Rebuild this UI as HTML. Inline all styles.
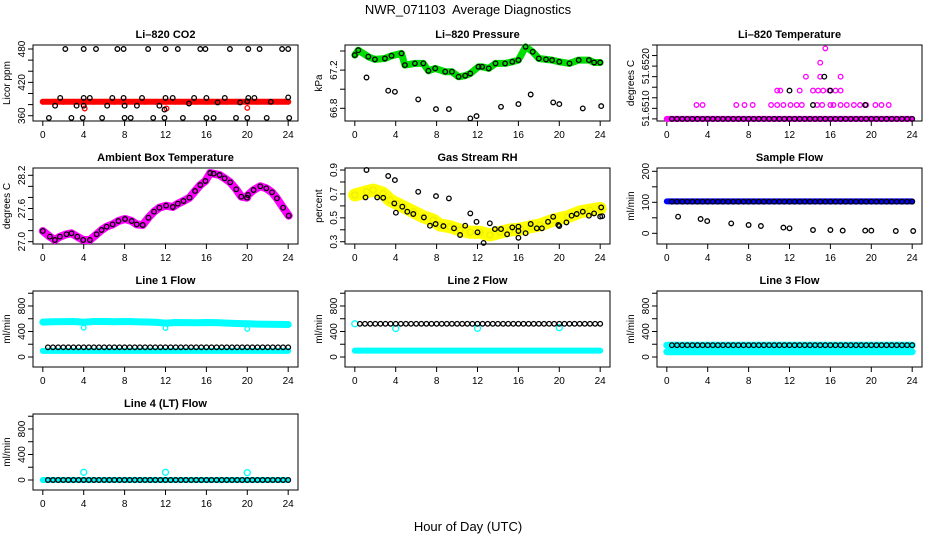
<!DOCTYPE html>
<html><head><meta charset="utf-8"><style>
html,body{margin:0;padding:0;background:#fff;}
svg{display:block;font-family:"Liberation Sans",Arial,sans-serif;}
</style></head><body>
<svg id="chart" width="936" height="540" viewBox="0 0 936 540" xmlns="http://www.w3.org/2000/svg">
<text x="468" y="14" text-anchor="middle" font-size="13" style="white-space:pre">NWR_071103&#160; Average Diagnostics</text>
<text x="468" y="531" text-anchor="middle" font-size="13">Hour of Day (UTC)</text>
</svg>
<script>
// ---------- data ----------
const xTicks=[0,4,8,12,16,20,24];
const hours=[0,1,2,3,4,5,6,7,8,9,10,11,12,13,14,15,16,17,18,19,20,21,22,23,24];
const halfHours=[0.5,1,1.5,2,2.5,3,3.5,4,4.5,5,5.5,6,6.5,7,7.5,8,8.5,9,9.5,10,10.5,11,11.5,12,12.5,13,13.5,14,14.5,15,15.5,16,16.5,17,17.5,18,18.5,19,19.5,20,20.5,21,21.5,22,22.5,23,23.5,24];

// CO2
const co2BlackT=[2.2,4.0,5.2,7.3,7.9,10.3,12.0,13.2,15.4,15.9,18.3,20.1,21.2,23.4,24.0,1.7,4.0,4.6,6.8,7.9,9.7,12.0,12.7,14.8,16.0,17.8,20.1,20.7,24.0,1.2,3.3,4.0,6.3,8.0,9.2,11.4,11.9,14.3,17.1,19.3,22.3,20.0,0.6,2.8,3.9,5.8,8.0,8.6,10.8,11.9,13.7,16.0,16.7,18.9,20.0,21.9,24.1];
const co2BlackV=[480,480,480,480,480,480,480,480,480,480,480,480,480,480,480,392,392,392,392,392,392,392,392,392,392,392,392,392,393,378,378,378,378,378,378,378,371,382,384,384,385,386,356,356,356,356,356,356,356,356,356,356,356,356,356,356,356];
const co2RedV=[385,385,385,385,385,385,385,385,385,385,385,385,385,385,385,385,385,385,385,385,385,385,385,385,385];
const co2RedOutT=[4.1,12.1,20.0];
const co2RedOutV=[373,373,374];

// Pressure
const presT=[0,0.34,1.32,1.96,2.94,3.59,4.57,4.9,5.88,6.7,7.2,7.86,8.84,9.5,10.15,10.8,11.3,12.1,12.45,13.1,13.76,14.7,15.4,16.0,16.7,17.4,18.0,18.7,19.3,20.0,21.0,21.9,22.9,23.4,24.0];
const presV=[67.357,67.409,67.340,67.312,67.322,67.350,67.375,67.252,67.270,67.270,67.193,67.218,67.183,67.183,67.130,67.141,67.165,67.235,67.235,67.218,67.270,67.270,67.287,67.305,67.444,67.392,67.322,67.312,67.305,67.287,67.270,67.305,67.305,67.280,67.280];
const presOutT=[1.14,3.27,3.92,6.2,7.94,9.2,11.3,11.9,14.3,16.0,17.2,19.4,20.0,22.3,24.1];
const presOutV=[67.123,66.984,66.973,66.893,66.792,66.792,66.694,66.718,66.816,66.844,66.945,66.862,66.844,66.799,66.823];

// Li-820 temperature
const tempBaseV=[51.65075,51.65075,51.65075,51.65075,51.65075,51.65075,51.65075,51.65075,51.65075,51.65075,51.65075,51.65075,51.65075,51.65075,51.65075,51.65075,51.65075,51.65075,51.65075,51.65075,51.65075,51.65075,51.65075,51.65075,51.65075];
const tempMagT=[2.9,3.5,6.8,7.6,8.4,10.2,10.8,11.4,12.1,12.7,13.2,14.7,15.2,16.0,16.3,17.0,17.6,18.3,18.9,19.5,20.4,21.0,21.7,10.8,11.1,13.0,14.3,14.8,15.3,15.9,16.5,17.0,13.6,15.0,17.0,15.0,15.5];
const tempMagV=[51.65108,51.65108,51.65108,51.65108,51.65108,51.65108,51.65108,51.65108,51.65108,51.65108,51.65108,51.65108,51.65108,51.65108,51.65108,51.65108,51.65108,51.65108,51.65108,51.65108,51.65108,51.65108,51.65108,51.65142,51.65142,51.65142,51.65142,51.65142,51.65142,51.65142,51.65142,51.65142,51.65175,51.65175,51.65175,51.65208,51.65242];
const tempBlackV=[51.65075,51.65075,51.65075,51.65075,51.65075,51.65075,51.65075,51.65075,51.65075,51.65075,51.65075,51.65075,51.65075,51.65075,51.65075,51.65075,51.65075,51.65075,51.65075,51.65075,51.65075,51.65075,51.65075,51.65075,51.65075,51.65075,51.65075,51.65075,51.65075,51.65075,51.65075,51.65075,51.65075,51.65075,51.65075,51.65075,51.65075,51.65075,51.65075,51.65075,51.65075,51.65075,51.65075,51.65075,51.65075,51.65075,51.65075,51.65075];
const tempBlackUpT=[14.3,19.4,12.0,16.0,15.4];
const tempBlackUpV=[51.65108,51.65108,51.65142,51.65142,51.65175];

// Ambient box temperature
const ambT=[0,0.69,1.18,1.67,2.32,2.81,3.37,3.95,4.61,5.26,5.75,6.24,6.83,7.39,8.04,8.69,9.18,9.77,10.33,10.88,11.4,12.06,12.71,13.2,13.76,14.35,14.9,15.4,15.9,16.37,16.7,17.29,17.78,18.33,18.92,19.41,19.97,20.07,20.62,21.27,21.86,22.42,22.9,23.5,24.05];
const ambV=[27.193,27.090,27.030,27.090,27.133,27.151,27.090,27.030,27.030,27.133,27.211,27.271,27.313,27.373,27.410,27.373,27.313,27.302,27.434,27.542,27.614,27.651,27.627,27.687,27.736,27.795,27.916,28.025,28.097,28.242,28.229,28.205,28.145,28.073,27.947,27.813,27.795,27.844,27.934,28.001,27.965,27.893,27.784,27.614,27.470];

// Gas stream RH
const rhT=[0,1.14,1.8,2.78,3.43,4.08,4.74,5.72,6.7,7.68,8.33,9.31,10.3,11.3,12.25,13.2,14.2,15.2,16.2,17.2,18.1,19.4,20.8,22.1,23.0,24.0];
const rhV=[0.691,0.718,0.733,0.705,0.649,0.621,0.593,0.551,0.509,0.481,0.440,0.426,0.398,0.379,0.379,0.356,0.379,0.398,0.406,0.426,0.440,0.481,0.509,0.551,0.565,0.579];
const rhBlackT=[1.14,3.27,3.92,6.2,7.94,9.2,1.05,2.19,2.78,3.86,4.02,4.64,5.13,5.72,6.76,7.35,7.9,8.66,9.7,10.3,10.8,11.3,11.9,12.0,12.6,13.2,13.7,14.3,14.9,15.4,16.0,16.0,16.0,16.7,17.2,17.8,18.3,18.9,19.4,19.9,20.0,20.7,21.2,21.7,22.3,22.9,23.4,24.0,24.1,24.2];
const rhBlackV=[0.900,0.850,0.816,0.718,0.682,0.663,0.671,0.671,0.668,0.621,0.543,0.593,0.551,0.532,0.504,0.434,0.448,0.431,0.412,0.356,0.434,0.537,0.467,0.379,0.290,0.454,0.406,0.406,0.362,0.420,0.426,0.390,0.333,0.371,0.448,0.412,0.412,0.467,0.509,0.440,0.432,0.462,0.518,0.532,0.551,0.518,0.537,0.510,0.587,0.514];

// Sample flow
const sampleBlueV=[103,103,103,103,103,103,103,103,103,103,103,103,103,103,103,103,103,103,103,103,103,103,103,103,103];
const sampleBlackV=[102,102,102,102,102,102,102,102,102,102,102,102,102,102,102,102,102,102,102,102,102,102,102,102,102,102,102,102,102,102,102,102,102,102,102,102,102,102,102,102,102,102,102,102,102,102,102,102];
const sampleOutT=[1.1,3.3,3.95,6.3,8.0,9.2,11.4,12.0,14.3,16.0,17.2,19.4,20.0,22.4,24.1];
const sampleOutV=[53.5,46,39.5,32,26.9,23.7,18.3,16.2,10.8,10.8,8.7,8.7,8.7,7.6,7.6];

// Line flows
const line1Upper=[548,552,555,556,545,556,557,553,556,554,549,546,532,541,539,537,541,539,531,526,521,516,513,511,509];
const line1Lower=[95,95,95,95,95,95,95,95,95,95,95,95,95,95,95,95,95,95,95,95,95,95,95,95,95];
const line1DipT=[4.0,12.0,20.0];
const line1DipV=[460,455,440];
const line1Black=[152,152,152,152,152,152,152,152,152,152,152,152,152,152,152,152,152,152,152,152,152,152,152,152,152,152,152,152,152,152,152,152,152,152,152,152,152,152,152,152,152,152,152,152,152,152,152,152];
const line2Lower=[100,100,100,100,100,100,100,100,100,100,100,100,100,100,100,100,100,100,100,100,100,100,100,100,100];
const line2CyanT=[0,4,12,20];
const line2CyanV=[520,445,450,460];
const line2Black=[520,520,520,520,520,520,520,520,520,520,520,520,520,520,520,520,520,520,520,520,520,520,520,520,520,520,520,520,520,520,520,520,520,520,520,520,520,520,520,520,520,520,520,520,520,520,520,520];
const line3Upper=[185,185,185,185,185,185,185,185,185,185,185,185,185,185,185,185,185,185,185,185,185,185,185,185,185];
const line3Lower=[82,82,82,82,82,82,82,82,82,82,82,82,82,82,82,82,82,82,82,82,82,82,82,82,82];
const line3Black=[185,185,185,185,185,185,185,185,185,185,185,185,185,185,185,185,185,185,185,185,185,185,185,185,185,185,185,185,185,185,185,185,185,185,185,185,185,185,185,185,185,185,185,185,185,185,185,185];
const line4Cyan=[0,0,0,0,0,0,0,0,0,0,0,0,0,0,0,0,0,0,0,0,0,0,0,0,0];
const line4OutT=[4,12,20];
const line4OutV=[120,120,115];
const line4Black=[0,0,0,0,0,0,0,0,0,0,0,0,0,0,0,0,0,0,0,0,0,0,0,0,0,0,0,0,0,0,0,0,0,0,0,0,0,0,0,0,0,0,0,0,0,0,0,0];

// ---------- drawing ----------
const NS="http://www.w3.org/2000/svg";
const svg=document.getElementById('chart');
const colL=[33,345,657], rowT=[45,168,291,414], PW=265, PH=76;
function mk(tag,attrs,parent){const e=document.createElementNS(NS,tag);for(const k in attrs)e.setAttribute(k,attrs[k]);(parent||svg).appendChild(e);return e;}
function xs(p,t){return p.left+(t+0.96)/25.92*PW;}
function ys(p,v){return p.top+PH-(v-p.ymin)/(p.ymax-p.ymin)*PH;}

function panel(name,col,row,title,ylab,ymin,ymax,yt,yl){
  const p={left:colL[col],top:rowT[row],ymin:ymin,ymax:ymax};
  const g=mk('g',{});
  
  
  p.g=g;
  const r=mk('rect',{x:p.left,y:p.top,width:PW,height:PH,fill:'none',stroke:'#000','stroke-width':1},g);
  
  
  const tt=mk('text',{x:p.left+PW/2,y:p.top-7,'text-anchor':'middle','font-size':11,'font-weight':'bold'},g);
  tt.textContent=title;
  
  
  const xa=mk('g',{},g);
  
  
  const b=p.top+PH;
  xTicks.forEach(t=>{
    const x=xs(p,t);
    mk('line',{x1:x,y1:b,x2:x,y2:b+5,stroke:'#000'},xa);
    const l=mk('text',{x:x,y:b+17,'text-anchor':'middle','font-size':10},xa);
    l.textContent=t;
  });
  const ya=mk('g',{},g);
  
  
  yt.forEach(v=>{const y=ys(p,v);mk('line',{x1:p.left,y1:y,x2:p.left-5,y2:y,stroke:'#000'},ya);});
  yl.forEach(v=>{const y=ys(p,v);const x=p.left-8;
    const l=mk('text',{x:x,y:y,'text-anchor':'middle','font-size':10,transform:'rotate(-90 '+x+' '+y+')'},ya);
    l.textContent=v;});
  const yx=p.left-23,yy=p.top+PH/2;
  const yt2=mk('text',{x:yx,y:yy,'text-anchor':'middle','font-size':10,transform:'rotate(-90 '+yx+' '+yy+')'},g);
  yt2.textContent=ylab;
  
  
  return p;
}
function band(p,name,T,V,color,w){
  const pts=T.map((t,i)=>xs(p,t).toFixed(1)+','+ys(p,V[i]).toFixed(1)).join(' ');
  const pl=mk('polyline',{points:pts,fill:'none',stroke:color,'stroke-width':w,'stroke-linejoin':'round','stroke-linecap':'round'},p.g);
  
  
}
function pts(p,name,T,V,color,r){
  const g=mk('g',{},p.g);
  
  
  T.forEach((t,i)=>{
    mk('circle',{cx:xs(p,t).toFixed(1),cy:ys(p,V[i]).toFixed(1),r:r||2.3,fill:'none',stroke:color,'stroke-width':1.3},g);
  });
}
const FT=[0,200,400,600,800,1000], FL=[0,400,800];

// CO2
let p=panel('co2',0,0,'Li\u2013820 CO2','Licor ppm',350.5,487.2,[360,380,400,420,440,460,480],[360,420,480]);
band(p,'co2-red-band',hours,co2RedV,'#ff0000',6);
pts(p,'co2-red-points',hours,co2RedV,'#ff0000');
pts(p,'co2-red-outliers',co2RedOutT,co2RedOutV,'#ff0000');
pts(p,'co2-black-points',co2BlackT,co2BlackV,'#000');

// Pressure
p=panel('pressure',1,0,'Li\u2013820 Pressure','kPa',66.667,67.463,[66.8,67.0,67.2,67.4],['66.8','67.2']);
band(p,'pressure-green-band',presT,presV,'#00dd00',7);
pts(p,'pressure-black-points',presT,presV,'#000');
pts(p,'pressure-black-outliers',presOutT,presOutV,'#000');

// Li-820 temperature
p=panel('li820-temp',2,0,'Li\u2013820 Temperature','degrees C',51.6507,51.6525,[51.65075,51.651,51.65125,51.6515,51.65175,51.652,51.65225,51.6525],['51.6510','51.6520']);
band(p,'temp-magenta-band',hours,tempBaseV,'#ff00ff',6);
pts(p,'temp-magenta-points',tempMagT,tempMagV,'#ff00ff');
pts(p,'temp-black-points',halfHours,tempBlackV,'#000');
pts(p,'temp-black-upper',tempBlackUpT,tempBlackUpV,'#000');

// Ambient
p=panel('ambient-temp',0,1,'Ambient Box Temperature','degrees C',26.958,28.332,[27.0,27.2,27.4,27.6,27.8,28.0,28.2],['27.0','27.6','28.2']);
band(p,'ambient-magenta-band',ambT,ambV,'#ff00ff',8);
pts(p,'ambient-black-points',ambT,ambV,'#000');

// RH
p=panel('rh',1,1,'Gas Stream RH','percent',0.281,0.917,[0.3,0.4,0.5,0.6,0.7,0.8,0.9],['0.3','0.5','0.7','0.9']);
band(p,'rh-yellow-band',rhT,rhV,'#ffff00',13);
pts(p,'rh-yellow-points',rhT,rhV,'#eeee00',3);
pts(p,'rh-black-points',rhBlackT,rhBlackV,'#000');

// Sample flow
p=panel('sample-flow',2,1,'Sample Flow','ml/min',-34.5,210.7,[0,50,100,150,200],[0,100,200]);
band(p,'sample-blue-band',hours,sampleBlueV,'#0000ff',6);
pts(p,'sample-black-points',halfHours,sampleBlackV,'#000');
pts(p,'sample-black-outliers',sampleOutT,sampleOutV,'#000');

// Line 1
p=panel('line1-flow',0,2,'Line 1 Flow','ml/min',-157,1035,FT,FL);
band(p,'line1-cyan-upper',hours,line1Upper,'#00ffff',7);
band(p,'line1-cyan-lower',hours,line1Lower,'#00ffff',6);
pts(p,'line1-cyan-dips',line1DipT,line1DipV,'#00ffff');
pts(p,'line1-black-points',halfHours,line1Black,'#000');

// Line 2
p=panel('line2-flow',1,2,'Line 2 Flow','ml/min',-157,1035,FT,FL);
band(p,'line2-cyan-lower',hours,line2Lower,'#00ffff',6);
pts(p,'line2-cyan-points',line2CyanT,line2CyanV,'#00ffff',3);
pts(p,'line2-black-points',halfHours,line2Black,'#000');

// Line 3
p=panel('line3-flow',2,2,'Line 3 Flow','ml/min',-157,1035,FT,FL);
band(p,'line3-cyan-upper',hours,line3Upper,'#00ffff',7);
band(p,'line3-cyan-lower',hours,line3Lower,'#00ffff',7);
pts(p,'line3-black-points',halfHours,line3Black,'#000');

// Line 4
p=panel('line4-flow',0,3,'Line 4 (LT) Flow','ml/min',-157,1035,FT,FL);
band(p,'line4-cyan-band',hours,line4Cyan,'#00ffff',6);
pts(p,'line4-cyan-outliers',line4OutT,line4OutV,'#00ffff',3);
pts(p,'line4-black-points',halfHours,line4Black,'#000');
</script>
</body></html>
